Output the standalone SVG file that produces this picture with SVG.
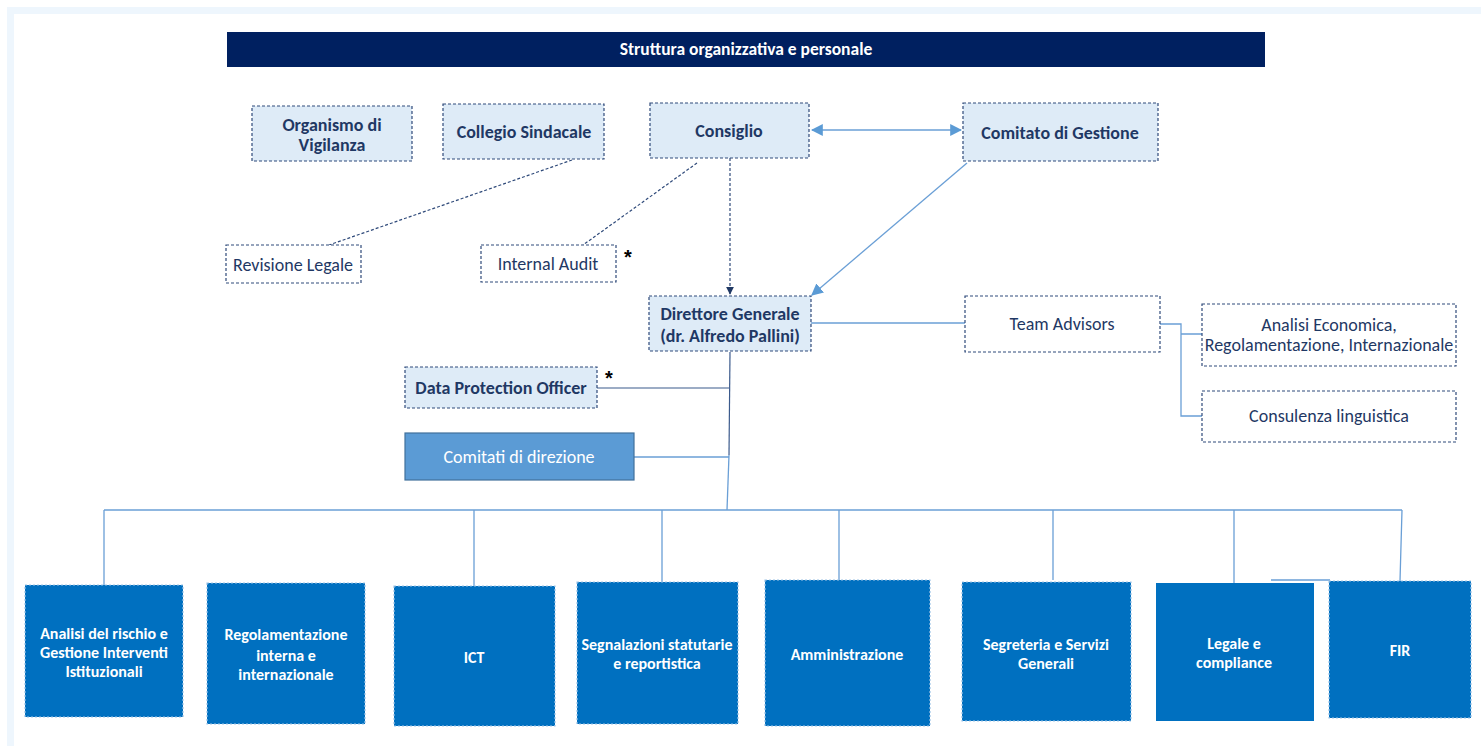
<svg xmlns="http://www.w3.org/2000/svg" width="1481" height="746" viewBox="0 0 1481 746">
<defs>
<style>
.frame{fill:none;stroke:#EEF6FD;stroke-width:7}
.t{font-family:Carlito,Lato,"Liberation Sans",sans-serif;text-anchor:middle;dominant-baseline:central}
.b{font-weight:bold}
.navy{fill:#1F3864}
.w{fill:#FFFFFF}
.ast{font-family:"Liberation Sans",sans-serif;font-weight:bold;font-size:20px;fill:#000;text-anchor:middle;dominant-baseline:central}
.lt{fill:#DEEBF7;stroke:#2F4A7A;stroke-width:1.2;stroke-dasharray:3 2}
.wh{fill:#FFFFFF;stroke:#2F4A7A;stroke-width:1.2;stroke-dasharray:3 2}
.blu{fill:#0070C0;stroke:#9DC3E6;stroke-width:1.2;stroke-dasharray:2 2}
.dash{fill:none;stroke:#2F4A7A;stroke-width:1.2;stroke-dasharray:3 2}
.lb{fill:none;stroke:#6A9FD6;stroke-width:1.3}
.dk{fill:none;stroke:#3B5A8C;stroke-width:1.2}
</style>
<marker id="ahNavy" viewBox="0 0 10 10" refX="9" refY="5" markerWidth="8" markerHeight="8" markerUnits="userSpaceOnUse" orient="auto"><path d="M0,0 L10,5 L0,10 z" fill="#1F3864"/></marker>
<marker id="ahBlue" viewBox="0 0 10 10" refX="9" refY="5" markerWidth="12" markerHeight="12" markerUnits="userSpaceOnUse" orient="auto-start-reverse"><path d="M0,0 L10,5 L0,10 z" fill="#5B9BD5"/></marker>
</defs>
<rect width="1481" height="746" fill="#FFFFFF"/>
<rect class="frame" x="10.5" y="10.5" width="1500" height="800"/>

<g id="title">
<rect x="227" y="32" width="1038" height="35" fill="#002060"/>
<text class="t b w" x="746" y="49" font-size="17.5">Struttura organizzativa e personale</text>
</g>

<g id="connectors">
<path class="dash" d="M572,160 L329,245"/>
<path class="dash" d="M697,163 L583,245"/>
<path class="dash" d="M730,158 L730,294" marker-end="url(#ahNavy)"/>
<path class="lb" d="M812,130 L961,130" marker-start="url(#ahBlue)" marker-end="url(#ahBlue)"/>
<path class="lb" d="M967,163 L812,295" marker-end="url(#ahBlue)"/>
<path class="lb" d="M811,323 L965,323"/>
<path class="lb" d="M1160,324 L1181,324 L1181,416 L1202,416 M1181,334 L1202,334"/>
<path class="dk" d="M730,352 L729,455"/>
<path class="dk" d="M597,388 L729,388"/>
<path class="lb" d="M729,455 L727,510"/>
<path class="lb" d="M634,457 L729,457"/>
<path class="lb" d="M104,510 L1402,510"/>
<path class="lb" d="M104,510 L104,585 M474,510 L474,586 M662,510 L662,582 M839,510 L839,580 M1053,510 L1053,580 M1234,510 L1234,583 M1402,510 L1400,581 M1271,580 L1330,580"/>
</g>

<g id="organismo">
<rect class="lt" x="252" y="106" width="160" height="55"/>
<text class="t b navy" x="332" y="125" font-size="18">Organismo di</text>
<text class="t b navy" x="332" y="145" font-size="18">Vigilanza</text>
</g>
<g id="collegio">
<rect class="lt" x="443" y="104" width="161" height="55"/>
<text class="t b navy" x="524" y="132" font-size="18">Collegio Sindacale</text>
</g>
<g id="consiglio">
<rect class="lt" x="650" y="103" width="159" height="55"/>
<text class="t b navy" x="729" y="131" font-size="18">Consiglio</text>
</g>
<g id="comitato-gestione">
<rect class="lt" x="963" y="103" width="195" height="58"/>
<text class="t b navy" x="1060" y="133" font-size="18">Comitato di Gestione</text>
</g>
<g id="revisione">
<rect class="wh" x="226" y="245" width="135" height="38"/>
<text class="t navy" x="293" y="265" font-size="18">Revisione Legale</text>
</g>
<g id="internal-audit">
<rect class="wh" x="481" y="245" width="135" height="37"/>
<text class="t navy" x="548" y="264" font-size="18">Internal Audit</text>
<text class="ast" x="628" y="257">*</text>
</g>
<g id="direttore">
<rect class="lt" x="649" y="296" width="162" height="55"/>
<text class="t b navy" x="730" y="314" font-size="18">Direttore Generale</text>
<text class="t b navy" x="730" y="336" font-size="18">(dr. Alfredo Pallini)</text>
</g>
<g id="team-advisors">
<rect class="wh" x="965" y="296" width="195" height="56"/>
<text class="t navy" x="1062" y="324" font-size="18">Team Advisors</text>
</g>
<g id="analisi-economica">
<rect class="wh" x="1202" y="304" width="254" height="62"/>
<text class="t navy" x="1329" y="325" font-size="18">Analisi Economica,</text>
<text class="t navy" x="1329" y="345" font-size="18">Regolamentazione, Internazionale</text>
</g>
<g id="consulenza">
<rect class="wh" x="1202" y="391" width="254" height="51"/>
<text class="t navy" x="1329" y="416" font-size="18">Consulenza linguistica</text>
</g>
<g id="dpo">
<rect class="lt" x="405" y="367" width="192" height="41"/>
<text class="t b navy" x="501" y="388" font-size="18">Data Protection Officer</text>
<text class="ast" x="609" y="378">*</text>
</g>
<g id="comitati-direzione">
<rect x="405" y="433" width="229" height="47" fill="#5B9BD5" stroke="#41719C" stroke-width="1.2"/>
<text class="t w" x="519" y="457" font-size="18">Comitati di direzione</text>
</g>

<g id="analisi-rischio">
<rect class="blu" x="25" y="585" width="158" height="132"/>
<text class="t b w" x="104" y="633" font-size="16">Analisi del rischio e</text>
<text class="t b w" x="104" y="652" font-size="16">Gestione Interventi</text>
<text class="t b w" x="104" y="671" font-size="16">Istituzionali</text>
</g>
<g id="regolamentazione">
<rect class="blu" x="207" y="583" width="158" height="141"/>
<text class="t b w" x="286" y="634" font-size="16">Regolamentazione</text>
<text class="t b w" x="286" y="655" font-size="16">interna e</text>
<text class="t b w" x="286" y="674" font-size="16">internazionale</text>
</g>
<g id="ict">
<rect class="blu" x="394" y="586" width="161" height="140"/>
<text class="t b w" x="474" y="657" font-size="16">ICT</text>
</g>
<g id="segnalazioni">
<rect class="blu" x="577" y="582" width="161" height="142"/>
<text class="t b w" x="657" y="644" font-size="16">Segnalazioni statutarie</text>
<text class="t b w" x="657" y="663" font-size="16">e reportistica</text>
</g>
<g id="amministrazione">
<rect class="blu" x="765" y="580" width="165" height="146"/>
<text class="t b w" x="847" y="654" font-size="16">Amministrazione</text>
</g>
<g id="segreteria">
<rect class="blu" x="962" y="582" width="169" height="139"/>
<text class="t b w" x="1046" y="644" font-size="16">Segreteria e Servizi</text>
<text class="t b w" x="1046" y="663" font-size="16">Generali</text>
</g>
<g id="legale">
<rect x="1156" y="583" width="158" height="138" fill="#0070C0"/>
<text class="t b w" x="1234" y="643" font-size="16">Legale e</text>
<text class="t b w" x="1234" y="662" font-size="16">compliance</text>
</g>
<g id="fir">
<rect class="blu" x="1329" y="581" width="142" height="137"/>
<text class="t b w" x="1400" y="650" font-size="16">FIR</text>
</g>
</svg>
